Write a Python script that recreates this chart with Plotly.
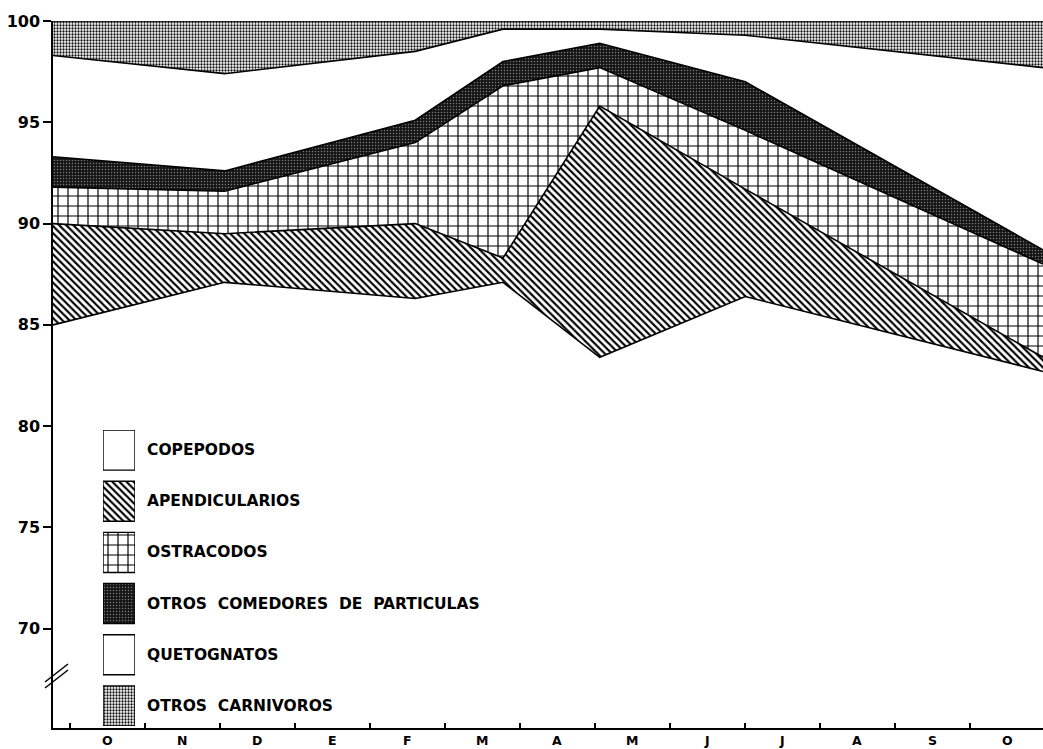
import plotly.graph_objects as go

# Posición de cada muestreo en el eje de meses (0 = octubre inicial, 12 = octubre final)
muestreo = [-0.72, 1.57, 4.11, 5.28, 6.57, 8.51, 12.48]

meses = ["O", "N", "D", "E", "F", "M", "A", "M", "J", "J", "A", "S", "O"]

# Porcentaje de cada grupo en cada muestreo
copepodos = [85.0, 87.1, 86.3, 87.1, 83.4, 86.4, 82.7]
apendicularios = [5.0, 2.4, 3.7, 1.2, 12.4, 5.3, 0.7]
ostracodos = [1.8, 2.1, 4.0, 8.5, 1.9, 2.9, 4.6]
otros_comedores = [1.5, 1.0, 1.1, 1.2, 1.2, 2.4, 0.7]
quetognatos = [5.0, 4.8, 3.4, 1.6, 0.7, 2.3, 9.0]
otros_carnivoros = [1.7, 2.6, 1.5, 0.4, 0.4, 0.7, 2.3]

nombres = [
    "COPEPODOS",
    "APENDICULARIOS",
    "OSTRACODOS",
    "OTROS\u00a0\u00a0COMEDORES\u00a0\u00a0DE\u00a0\u00a0PARTICULAS",
    "QUETOGNATOS",
    "OTROS\u00a0\u00a0CARNIVOROS",
]
series = [copepodos, apendicularios, ostracodos, otros_comedores,
          quetognatos, otros_carnivoros]

y_ticks = [70, 75, 80, 85, 90, 95, 100]

# Trama de relleno de cada grupo
WHITE = dict(shape="", bgcolor="white", fgcolor="black", size=8, solidity=0.2)
tramas = [
    WHITE,
    dict(shape="\\", bgcolor="white", fgcolor="black", size=5, solidity=0.42),
    dict(shape="+", bgcolor="white", fgcolor="black", size=10, solidity=0.22),
    dict(shape=".", bgcolor="#151515", fgcolor="#7a7a7a", size=3, solidity=0.2),
    WHITE,
    dict(shape=".", bgcolor="white", fgcolor="#111111", size=3, solidity=0.45),
]
fondos = ["white", "white", "white", "#151515", "white", "white"]

W, H = 1043, 749
ML, MR, MT, MB = 53, 0, 21, 21
PW, PH = W - ML - MR, H - MT - MB


def px_x(px):
    return (px - ML) / PW


def px_y(py):
    return (H - MB - py) / PH


fig = go.Figure()

for nombre, vals, trama, fondo in zip(nombres, series, tramas, fondos):
    kw = {}
    if trama["shape"]:
        kw["fillpattern"] = dict(shape=trama["shape"], bgcolor=trama["bgcolor"],
                                 fgcolor=trama["fgcolor"], size=trama["size"],
                                 solidity=trama["solidity"], fillmode="replace")
    fig.add_trace(go.Scatter(
        x=muestreo, y=vals, name=nombre, mode="lines", stackgroup="g",
        line=dict(color="black", width=1.6), fillcolor=fondo,
        hoverinfo="skip", showlegend=False, **kw))

# Leyenda: recuadros con la misma trama que cada área
n = len(nombres)
alto_caja = 0.784
for k, (nombre, trama, fondo) in enumerate(zip(nombres, tramas, fondos)):
    marker = dict(color=fondo, line=dict(color="black", width=1.4))
    if trama["shape"]:
        marker["pattern"] = dict(shape=trama["shape"], bgcolor=trama["bgcolor"],
                                 fgcolor=trama["fgcolor"], size=trama["size"],
                                 solidity=trama["solidity"], fillmode="replace")
    fig.add_trace(go.Bar(
        x=[0], y=[alto_caja], base=[n - 1 - k], width=[1],
        marker=marker, xaxis="x2", yaxis="y2",
        hoverinfo="skip", showlegend=False))
    fig.add_annotation(
        x=px_x(145), xref="paper", xanchor="left",
        y=n - 1 - k + alto_caja / 2, yref="y2", yanchor="middle",
        text=nombre, showarrow=False,
        font=dict(family="DejaVu Sans", size=15.5, color="black", weight="bold"))

# Rótulos de los meses, centrados entre las marcas del eje
for i, m in enumerate(meses):
    fig.add_annotation(
        x=i, xref="x", y=px_y(740), yref="paper", yanchor="middle",
        text=m, showarrow=False,
        font=dict(family="DejaVu Sans", size=12.5, color="black", weight="bold"))

# Señal de corte del eje vertical
for dy in (0, 6):
    fig.add_shape(type="line", xref="paper", yref="paper",
                  x0=px_x(45), y0=px_y(682 + dy), x1=px_x(68), y1=px_y(664 + dy),
                  line=dict(color="black", width=1.5))

fig.update_layout(
    width=W, height=H,
    margin=dict(l=ML, r=MR, t=MT, b=MB),
    paper_bgcolor="white", plot_bgcolor="white",
    showlegend=False,
    barmode="overlay",
    xaxis=dict(
        range=[-0.72, 12.48], showgrid=False, zeroline=False,
        showline=True, linecolor="black", linewidth=1.5,
        tickmode="array", tickvals=[i - 0.5 for i in range(14)],
        ticktext=[""] * 14, ticks="inside", ticklen=5, tickwidth=1.5,
        tickcolor="black"),
    yaxis=dict(
        range=[65.1, 100], showgrid=False, zeroline=False,
        showline=True, linecolor="black", linewidth=1.5,
        tickmode="array", tickvals=y_ticks, ticks="outside", ticklen=8,
        tickwidth=1.5, tickcolor="black",
        tickfont=dict(family="DejaVu Sans", size=16, color="black", weight="bold")),
    xaxis2=dict(domain=[px_x(103), px_x(135)], range=[-0.5, 0.5],
                anchor="y2", visible=False, fixedrange=True),
    yaxis2=dict(domain=[px_y(726), px_y(430)], range=[0, n - 1 + alto_caja],
                anchor="x2", visible=False, fixedrange=True),
)

fig.write_html("out.html")
